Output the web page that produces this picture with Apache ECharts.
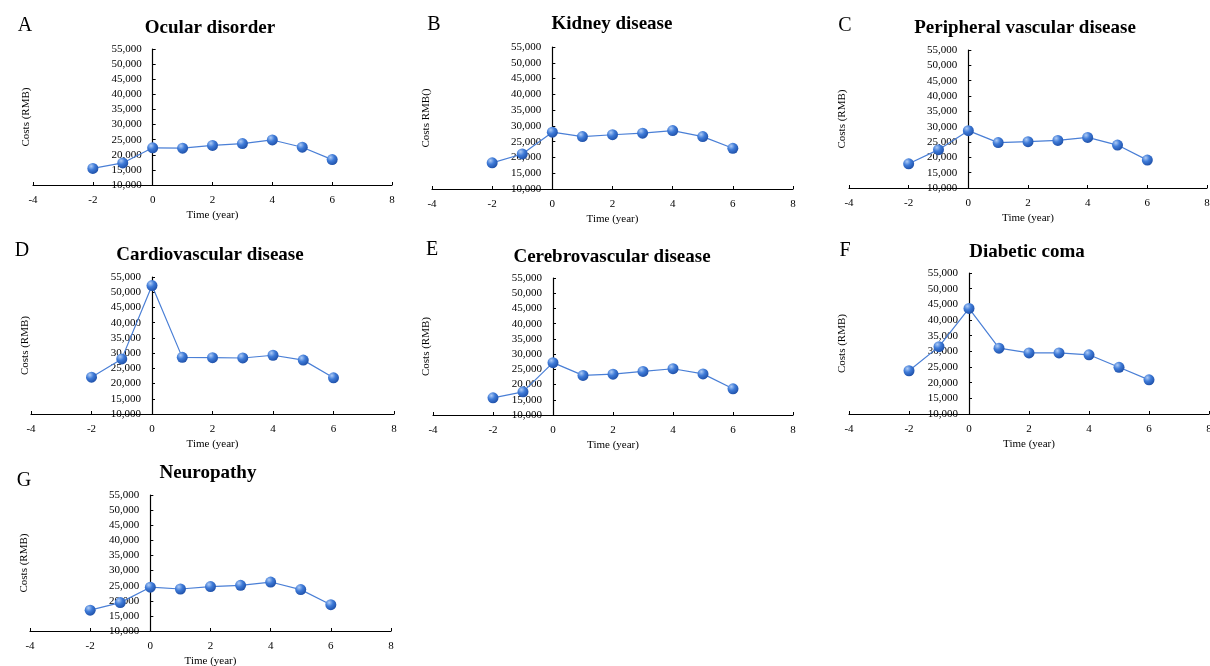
<!DOCTYPE html>
<html>
<head>
<meta charset="utf-8">
<script src="https://cdn.jsdelivr.net/npm/echarts@6/dist/echarts.min.js"></script>
<style>
  html, body { margin: 0; padding: 0; background: #fff; }
  #main { width: 1210px; height: 666px; }
</style>
</head>
<body>
<div id="main"></div>
<script>
// years relative to diagnosis
const years = [-2, -1, 0, 1, 2, 3, 4, 5, 6]
const xTicks = [-4, -2, 0, 2, 4, 6, 8]
const yTicks = [10000, 15000, 20000, 25000, 30000, 35000, 40000, 45000, 50000, 55000]

const letters = ['A', 'B', 'C', 'D', 'E', 'F', 'G']
const titles = [
  'Ocular disorder',
  'Kidney disease',
  'Peripheral vascular disease',
  'Cardiovascular disease',
  'Cerebrovascular disease',
  'Diabetic coma',
  'Neuropathy',
]
const yNames = ['Costs (RMB)', 'Costs RMB()', 'Costs (RMB)', 'Costs (RMB)', 'Costs (RMB)', 'Costs (RMB)', 'Costs (RMB)']

const ocular = [15500, 17300, 22300, 22200, 23100, 23700, 24900, 22500, 18400]
const kidney = [18300, 21100, 28000, 26600, 27200, 27700, 28500, 26600, 22900]
const peripheral = [17900, 22500, 28700, 24800, 25100, 25500, 26500, 24000, 19100]
const cardio = [22100, 28100, 52200, 28600, 28500, 28400, 29300, 27700, 21900]
const cerebro = [15650, 17600, 27200, 23000, 23400, 24300, 25200, 23500, 18600]
const coma = [23800, 31500, 43700, 31000, 29500, 29500, 28900, 24900, 20900]
const neuro = [16900, 19400, 24500, 23900, 24700, 25100, 26200, 23700, 18700]
const seriesValues = [ocular, kidney, peripheral, cardio, cerebro, coma, neuro]

// panel boxes: left / top / width / height of each plot (px)
const boxes = [
  { left: 33, top: 49, width: 359, height: 136 },
  { left: 432, top: 47, width: 361, height: 142 },
  { left: 849, top: 50, width: 358, height: 138 },
  { left: 31, top: 277, width: 363, height: 137 },
  { left: 433, top: 278, width: 360, height: 137 },
  { left: 849, top: 273, width: 360, height: 141 },
  { left: 30, top: 495, width: 361, height: 136 },
]
const titlePos = [[205, 14], [607, 10], [1020, 14], [205, 241], [607, 243], [1022, 238], [203, 459]]
const letterPos = [[20, 11], [429, 10], [840, 11], [17, 236], [427, 235], [840, 236], [19, 466]]

const font = 'Liberation Serif'
const myChart = echarts.init(document.getElementById('main'))

const ball = new echarts.graphic.RadialGradient(0.35, 0.3, 0.75, [
  { offset: 0, color: '#aecbf5' },
  { offset: 0.45, color: '#3f7bd8' },
  { offset: 1, color: '#1d4ea6' },
])

const xMin = xTicks[0]
const xMax = xTicks[xTicks.length - 1]

const title = []
const grid = []
const xAxis = []
const yAxis = []
const series = []
titles.forEach((t, i) => {
  title.push({
    text: t,
    left: titlePos[i][0],
    top: titlePos[i][1],
    textAlign: 'center',
    textStyle: { fontFamily: font, fontWeight: 'bold', fontSize: 19, color: '#000' },
  })
  title.push({
    text: letters[i],
    left: letterPos[i][0],
    top: letterPos[i][1],
    textAlign: 'center',
    textStyle: { fontFamily: font, fontWeight: 'normal', fontSize: 20, color: '#000' },
  })
  grid.push(Object.assign({ containLabel: false, outerBoundsMode: 'none' }, boxes[i]))
  xAxis.push({
    type: 'value',
    gridIndex: i,
    min: xMin,
    max: xMax,
    interval: 2,
    name: 'Time (year)',
    nameLocation: 'middle',
    nameGap: 25,
    nameTextStyle: { fontFamily: font, fontSize: 11, color: '#000' },
    axisLine: { onZero: false, lineStyle: { color: '#000', width: 1.2 } },
    axisTick: { inside: true, length: 3, lineStyle: { color: '#000' } },
    axisLabel: { fontFamily: font, fontSize: 11, color: '#000', margin: 10 },
    splitLine: { show: false },
  })
  // y axis drawn at x = 0: shift it right from the grid's left edge
  yAxis.push({
    type: 'value',
    gridIndex: i,
    position: 'left',
    offset: -boxes[i].width * (0 - xMin) / (xMax - xMin),
    min: yTicks[0],
    max: yTicks[yTicks.length - 1],
    interval: 5000,
    name: yNames[i],
    nameLocation: 'middle',
    nameGap: 121,
    nameTextStyle: { fontFamily: font, fontSize: 11, color: '#000' },
    axisLine: { onZero: false, lineStyle: { color: '#000', width: 1.2 } },
    axisTick: { inside: true, length: 3, lineStyle: { color: '#000' } },
    axisLabel: {
      fontFamily: font,
      fontSize: 11,
      color: '#000',
      margin: 11,
      formatter: (v) => v.toLocaleString('en-US'),
    },
    splitLine: { show: false },
  })
  series.push({
    type: 'line',
    xAxisIndex: i,
    yAxisIndex: i,
    data: years.map((y, k) => [y, seriesValues[i][k]]),
    symbol: 'circle',
    symbolSize: 11,
    lineStyle: { color: '#4a7fd6', width: 1.2 },
    itemStyle: { color: ball },
    z: 3,
  })
})

myChart.setOption({
  animation: false,
  backgroundColor: '#fff',
  title,
  grid,
  xAxis,
  yAxis,
  series,
})
</script>
</body>
</html>
